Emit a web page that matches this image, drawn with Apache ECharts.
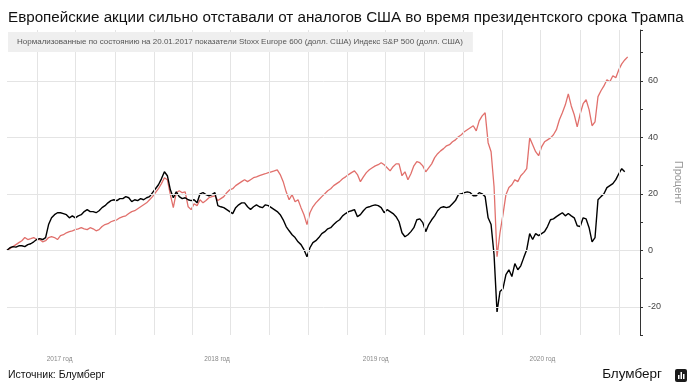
<!DOCTYPE html>
<html><head><meta charset="utf-8">
<script src="https://cdn.jsdelivr.net/npm/echarts@6/dist/echarts.min.js"></script>
<style>html,body{margin:0;padding:0;background:#fff}#c{width:692px;height:390px}</style>
</head><body><div id="c"></div>
<script>
const titleText = 'Европейские акции сильно отставали от аналогов США во время президентского срока Трампа';
const subtitleText = 'Нормализованные по состоянию на 20.01.2017 показатели Stoxx Europe 600 (долл. США) Индекс S&P 500 (долл. США)';
const seriesNames = ['Stoxx Europe 600 (долл. США)', 'Индекс S&P 500 (долл. США)'];
const startDate = '2017-01-20';
const stepDays = 7;
const xMin = '2017-01-20';
const xMax = '2021-02-20';
const yMin = -30, yMax = 78, yTickStep = 10;
const yGridValues = [-20, 0, 20, 40, 60];
const quarterLines = ['2017-04-01','2017-07-01','2017-10-01','2018-01-01','2018-04-01','2018-07-01','2018-10-01','2019-01-01','2019-04-01','2019-07-01','2019-10-01','2020-01-01','2020-04-01','2020-07-01','2020-10-01','2021-01-01'];
const yearLabelDates = ['2017-05-24','2018-05-30','2019-06-08','2020-07-05'];

// Stoxx Europe 600 (USD), weekly, % vs 20.01.2017
const stoxx = [
0,0.9,1.3,1.1,1.6,1.6,1.3,2.0,2.3,3.0,3.8,4.1,3.8,4.5,9.1,11.5,12.6,13.3,13.3,13.0,
12.6,11.5,12.2,11.5,12.2,12.6,13.7,14.4,13.7,13.7,13.3,14.0,15.1,15.8,16.8,17.6,17.9,17.6,18.3,18.3,
19.0,18.6,17.2,17.9,17.6,18.3,17.9,18.6,19.0,20.4,21.8,23.2,25.3,27.8,26.4,21.4,18.6,20.7,19.0,18.3,
18.6,17.9,17.6,17.9,16.8,20.0,20.4,19.7,19.3,19.7,20.4,15.8,15.4,15.1,14.4,13.7,13.0,15.1,16.1,16.8,
16.8,15.4,14.4,15.4,16.1,15.4,15.1,16.1,15.8,15.1,14.4,13.7,12.6,10.8,8.4,6.9,5.5,4.5,3.0,2.0,
0.2,-2.3,0.9,2.7,3.4,4.5,5.9,6.6,7.6,8.0,9.1,10.1,10.8,12.2,13.0,13.7,14.0,14.4,11.9,12.6,
14.0,15.1,15.4,15.8,16.1,15.8,15.1,13.3,14.4,13.7,13.0,11.9,10.1,6.2,4.8,5.5,6.6,8.0,10.8,11.1,
9.8,6.6,9.1,10.8,12.2,14.0,15.1,15.4,15.1,15.4,16.5,17.6,19.7,20.0,20.4,20.7,20.4,19.3,19.3,20.4,
20.0,19.0,11.5,9.1,-1.6,-21.8,-14.6,-13.6,-8.6,-6.9,-9.3,-4.7,-6.9,-5.5,-2.6,0.2,5.9,3.8,5.9,5.2,
5.9,6.6,8.4,10.8,11.1,11.9,12.6,13.3,12.2,13.0,12.2,11.5,8.7,8.4,11.5,11.1,8.0,3.0,4.5,17.9,
19.0,20.0,22.2,22.9,23.6,25.0,27.1,28.9,27.8
];
// S&P 500 (USD), weekly, % vs 20.01.2017
const spx = [
0,0.6,1.3,2.0,2.7,3.4,4.5,3.8,4.1,4.5,3.8,3.8,3.0,3.4,4.5,4.8,4.5,3.8,5.2,5.5,
6.2,6.6,6.9,7.3,7.6,8.0,7.6,7.3,8.0,7.6,6.9,7.3,8.4,9.1,9.4,10.1,10.5,10.8,11.5,11.9,
12.2,13.0,13.7,14.0,14.7,15.4,16.1,16.8,17.9,19.0,20.4,21.8,23.6,25.7,25.0,19.7,15.1,20.4,21.1,20.4,
20.7,15.4,14.4,16.5,15.8,17.9,16.8,17.6,18.6,19.0,19.3,17.6,18.3,19.0,20.4,21.4,21.8,22.9,23.6,24.3,
25.0,24.3,25.0,25.7,26.0,26.4,26.8,27.1,27.5,27.8,28.1,28.5,26.8,24.3,20.7,17.9,19.7,17.2,17.9,15.1,
12.6,9.1,13.3,15.4,16.8,17.9,19.0,20.0,21.1,21.8,22.9,23.6,24.3,25.3,26.0,26.8,27.5,28.1,26.8,24.3,
26.0,27.5,28.5,29.2,29.9,30.3,31.0,30.3,29.2,28.1,29.6,30.6,30.6,26.4,27.8,25.0,27.1,29.9,31.4,31.0,
29.9,27.8,29.2,30.6,32.8,34.2,35.2,36.0,37.0,37.4,38.4,39.1,40.2,40.9,42.0,42.7,43.4,44.1,42.3,45.8,
47.6,48.7,38.1,34.9,22.5,-2.3,6.2,12.6,19.7,22.2,23.2,25.0,24.3,26.4,27.5,28.9,39.8,37.4,34.9,33.5,
36.6,38.4,39.1,39.8,40.9,42.7,46.2,48.7,51.5,55.4,51.1,48.0,43.7,48.3,51.9,53.3,49.8,44.1,45.5,54.4,
56.5,58.2,60.4,59.7,61.8,61.1,63.9,66.0,67.4,68.5
];

function weeklyDates(n) {
  const t0 = Date.parse(startDate + 'T00:00:00Z');
  const out = [];
  for (let i = 0; i < n; i++) out.push(t0 + i * stepDays * 86400000);
  return out;
}
const toTs = s => Date.parse(s + 'T00:00:00Z');
const pair = arr => { const d = weeklyDates(arr.length); return arr.map((v, i) => [d[i], v]); };

const chart = echarts.init(document.getElementById('c'), null, {renderer: 'canvas'});
const FONT = 'Liberation Sans, Arial, sans-serif';
chart.setOption({
  animation: false,
  backgroundColor: '#fff',
  textStyle: {fontFamily: FONT},
  title: [
    {text: titleText, left: 3, top: 5, textStyle: {fontSize: 15.2, fontWeight: 'normal', color: '#111', fontFamily: FONT}},
    {text: subtitleText, left: 8, top: 32, padding: [6, 10, 6, 9], backgroundColor: '#efefef',
     textStyle: {fontSize: 8, fontWeight: 'normal', color: '#555', fontFamily: FONT}}
  ],
  grid: {left: 7, right: 49, top: 30, bottom: 55},
  xAxis: {
    type: 'value', min: toTs(xMin), max: toTs(xMax),
    axisLine: {show: false}, axisTick: {show: false}, splitLine: {show: false},
    axisLabel: {customValues: yearLabelDates.map(toTs), formatter: v => new Date(v).getUTCFullYear() + ' год',
      fontSize: 6.5, color: '#888', margin: 21}
  },
  yAxis: {
    type: 'value', position: 'right', min: yMin, max: yMax, interval: yTickStep,
    name: 'Процент', nameLocation: 'middle', nameGap: 33, nameRotate: -90,
    nameTextStyle: {fontSize: 11, color: '#999'},
    axisLine: {show: true, lineStyle: {color: '#333', width: 1}},
    axisTick: {show: true, length: 3, lineStyle: {color: '#333'}},
    splitLine: {show: false},
    axisLabel: {formatter: v => (v % 20 === 0 ? String(v) : ''), fontSize: 9, color: '#444', margin: 8}
  },
  series: [
    {type: 'line', name: 'grid', data: [], z: 1, silent: true,
     markLine: {silent: true, symbol: 'none', label: {show: false}, animation: false,
       lineStyle: {color: '#e4e4e4', width: 1, type: 'solid'},
       data: yGridValues.map(v => ({yAxis: v})).concat(quarterLines.map(d => ({xAxis: toTs(d)})))}},
    {type: 'line', name: seriesNames[1], data: pair(spx), showSymbol: false, z: 3,
     lineStyle: {color: '#e1706c', width: 1.3}, itemStyle: {color: '#e1706c'}},
    {type: 'line', name: seriesNames[0], data: pair(stoxx), showSymbol: false, z: 4,
     lineStyle: {color: '#000', width: 1.4}, itemStyle: {color: '#000'}}
  ],
  graphic: [
    {type: 'text', left: 8, top: 370, style: {text: 'Источник: Блумберг', fontSize: 10.5, fill: '#111', fontFamily: FONT}},
    {type: 'text', right: 30, top: 367, style: {text: 'Блумберг', fontSize: 13.5, fill: '#111', fontFamily: FONT}},
    {type: 'group', right: 5, top: 369, children: [
      {type: 'rect', shape: {x: 0, y: 0, width: 12, height: 13, r: 2}, style: {fill: '#1a1a1a'}},
      {type: 'rect', shape: {x: 3, y: 6, width: 1.5, height: 4}, style: {fill: '#fff'}},
      {type: 'rect', shape: {x: 5.5, y: 3, width: 1.5, height: 7}, style: {fill: '#fff'}},
      {type: 'rect', shape: {x: 8, y: 5, width: 1.5, height: 5}, style: {fill: '#fff'}}
    ]}
  ]
});
</script></body></html>
